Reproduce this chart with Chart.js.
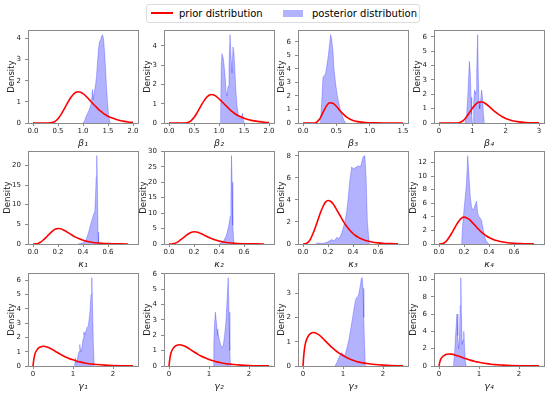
<!DOCTYPE html>
<html><head><meta charset="utf-8">
<script src="https://cdn.jsdelivr.net/npm/chart.js@4.4.0/dist/chart.umd.min.js"></script>
<style>
html,body{margin:0;padding:0;background:#fff;width:550px;height:394px;overflow:hidden;font-family:"DejaVu Sans",sans-serif;}
canvas{position:absolute;}
#legend{position:absolute;left:146px;top:4px;width:274px;height:19px;border:1px solid #dcdcdc;border-radius:3px;background:#fff;box-sizing:border-box;}
#legend .ln{position:absolute;left:4px;top:7px;width:22px;height:2px;background:#ff0000;}
#legend .pt{position:absolute;left:136px;top:4.5px;width:20px;height:7px;background:rgba(0,0,255,0.3);}
#legend .tx{position:absolute;top:1px;font-size:10px;line-height:15px;color:#000;white-space:nowrap;}
</style></head><body>
<div id="legend"><div class="ln"></div><span class="tx" style="left:32px">prior distribution</span><div class="pt"></div><span class="tx" style="left:165px">posterior distribution</span></div>
<script>
// ---------- tick labels ----------
const xTicksB12 = [0, 0.5, 1, 1.5, 2];      const xLabB12 = ['0.0','0.5','1.0','1.5','2.0'];
const xTicksB3  = [0, 0.5, 1, 1.5];         const xLabB3  = ['0.0','0.5','1.0','1.5'];
const xTicksB4  = [0, 1, 2, 3];             const xLabB4  = ['0','1','2','3'];
const xTicksK   = [0, 0.2, 0.4, 0.6];       const xLabK   = ['0.0','0.2','0.4','0.6'];
const xTicksG   = [0, 1, 2];                const xLabG   = ['0','1','2'];
const yTicks4  = [0,1,2,3,4];
const yTicks6  = [0,1,2,3,4,5,6];
const yTicks3  = [0,1,2,3];
const yTicks20 = [0,5,10,15,20];
const yTicks30 = [0,5,10,15,20,25,30];
const yTicks8  = [0,2,4,6,8];
const yTicks12 = [0,2,4,6,8,10,12];
const yTicks10 = [0,2,4,6,8,10];

// ---------- prior curves ----------
const priorB1X = [0,0.3,0.35,0.4,0.45,0.5,0.55,0.6,0.65,0.7,0.75,0.8,0.85,0.9,0.95,1.0,1.05,1.1,1.15,1.2,1.25,1.3,1.35,1.4,1.45,1.5,1.6,1.7,1.8,1.9,2.0];
const priorB1Y = [0,0,0.005,0.03,0.09,0.2,0.36,0.56,0.78,0.99,1.18,1.34,1.44,1.48,1.46,1.39,1.29,1.17,1.04,0.91,0.79,0.67,0.57,0.47,0.39,0.32,0.22,0.14,0.09,0.05,0.03];
const priorB2X = [0,0.3,0.35,0.4,0.45,0.5,0.55,0.6,0.65,0.7,0.75,0.8,0.85,0.9,0.95,1.0,1.05,1.1,1.15,1.2,1.25,1.3,1.35,1.4,1.5,1.6,1.7,1.8,1.9,2.0];
const priorB2Y = [0,0,0.01,0.05,0.14,0.28,0.48,0.71,0.94,1.15,1.32,1.44,1.48,1.45,1.37,1.26,1.13,1.0,0.87,0.74,0.62,0.52,0.43,0.36,0.25,0.17,0.11,0.07,0.04,0.025];
const priorB3X = [0,0.15,0.2,0.25,0.3,0.35,0.4,0.45,0.5,0.55,0.6,0.65,0.7,0.75,0.8,0.9,1.0,1.1,1.2,1.5];
const priorB3Y = [0,0,0.05,0.3,0.78,1.25,1.5,1.46,1.24,0.95,0.67,0.45,0.3,0.19,0.12,0.05,0.02,0.008,0.003,0];
const priorB4X = [0,0.5,0.6,0.7,0.8,0.9,1.0,1.1,1.2,1.3,1.4,1.5,1.6,1.7,1.8,1.9,2.0,2.2,2.4,2.6,2.8,3.0];
const priorB4Y = [0,0,0.02,0.12,0.35,0.68,1.02,1.3,1.46,1.46,1.34,1.16,0.95,0.75,0.58,0.43,0.32,0.16,0.08,0.04,0.02,0.01];
const priorKX = [0,0.02,0.04,0.06,0.08,0.1,0.12,0.14,0.16,0.18,0.2,0.22,0.24,0.26,0.28,0.3,0.32,0.34,0.36,0.38,0.4,0.42,0.44,0.46,0.48,0.5,0.55,0.6,0.65,0.7,0.76];
const priorKY = [0,0.02,0.15,0.45,0.95,1.55,2.2,2.85,3.4,3.8,3.95,3.88,3.65,3.3,2.9,2.5,2.1,1.75,1.45,1.18,0.95,0.77,0.62,0.5,0.4,0.32,0.18,0.1,0.05,0.03,0.01];
const priorGX = [0,0.02,0.05,0.1,0.15,0.2,0.25,0.3,0.4,0.5,0.6,0.7,0.8,0.9,1.0,1.1,1.2,1.3,1.4,1.5,1.6,1.8,2.0,2.2,2.5];
const priorGY = [0,0.45,0.85,1.13,1.28,1.35,1.38,1.37,1.28,1.13,0.96,0.8,0.65,0.53,0.43,0.34,0.27,0.21,0.16,0.13,0.1,0.06,0.035,0.02,0.01];

// ---------- posterior histograms ----------
const postB1X = [1.00,1.03,1.06,1.09,1.12,1.15,1.17,1.19,1.205,1.22,1.25,1.27,1.29,1.31,1.33,1.35,1.37,1.39,1.41,1.43,1.45,1.47,1.49,1.51,1.53,1.55];
const postB1Y = [0,0.1,0.3,0.45,0.6,0.8,1.0,1.58,1.1,1.4,1.8,2.2,2.9,3.5,3.85,3.9,4.1,4.18,4.0,3.4,2.6,1.7,1.0,0.4,0.1,0];
const postB2X = [1.03,1.045,1.06,1.09,1.12,1.14,1.16,1.18,1.20,1.22,1.24,1.26,1.28,1.30,1.32,1.34,1.36,1.39,1.42,1.45,1.47,1.49,1.51];
const postB2Y = [0,3.0,3.6,3.3,2.5,1.7,1.4,1.9,3.0,4.59,3.5,2.6,3.95,3.6,2.6,1.6,0.9,0.4,0.2,0.3,0.5,0.1,0];
const postB3X = [0.26,0.28,0.30,0.32,0.34,0.36,0.38,0.40,0.415,0.43,0.45,0.465,0.49,0.515,0.54,0.565,0.59,0.615,0.64];
const postB3Y = [0,1.5,3.4,3.5,3.7,4.3,5.0,5.9,6.53,6.2,5.3,4.0,2.9,2.0,1.4,0.9,0.5,0.2,0];
const postB4X = [0.78,0.83,0.87,0.91,0.94,0.96,0.98,1.00,1.02,1.04,1.07,1.09,1.11,1.13,1.16,1.18,1.20,1.22,1.25,1.28,1.30,1.33,1.36];
const postB4Y = [0,0.6,2.2,4.3,3.4,1.8,0.6,0,0,1.5,2.3,2.0,2.2,3.5,6.15,3.2,1.5,1.0,1.6,2.3,1.9,0.7,0];
const postK1X = [0.36,0.38,0.40,0.42,0.43,0.44,0.45,0.46,0.47,0.48,0.49,0.495,0.50,0.505,0.51,0.515,0.52,0.525];
const postK1Y = [0,0.1,0.3,0.8,1.5,2.5,3.6,4.8,6.0,7.0,8.0,9.0,12,17,22.5,15,3,0];
const postK2X = [0.40,0.42,0.44,0.45,0.46,0.47,0.48,0.49,0.495,0.50,0.505,0.51,0.52];
const postK2Y = [0,0.3,1.2,2.0,3.0,4.5,6.5,9,14,28.6,20,6,0];
const postK3X = [0.10,0.12,0.16,0.20,0.23,0.25,0.27,0.29,0.31,0.32,0.335,0.35,0.36,0.375,0.39,0.40,0.415,0.43,0.44,0.455,0.465,0.48,0.495,0.505,0.515,0.53];
const postK3Y = [0,0.1,0.05,0.2,0.4,0.3,0.6,0.5,1.0,1.4,2.0,3.0,4.0,5.8,7.0,6.8,6.9,7.0,7.1,7.0,7.2,7.9,8.02,6.0,2.0,0];
const postK4X = [0.18,0.19,0.20,0.21,0.22,0.23,0.24,0.25,0.26,0.27,0.28,0.29,0.30,0.31,0.32,0.33,0.34,0.35,0.36,0.37,0.38,0.39,0.40];
const postK4Y = [0,3,5,7,9,13,10,7,5.5,5,5.2,5.8,6.3,4.5,4,3.8,3.5,2.5,1.5,0.8,0.4,0.2,0];
const postG1X = [1.04,1.06,1.08,1.10,1.13,1.15,1.17,1.19,1.21,1.23,1.25,1.27,1.30,1.33,1.35,1.38,1.41,1.43,1.45,1.47,1.49,1.51,1.53];
const postG1Y = [0,0.55,0.2,0.3,0.8,1.0,1.5,1.0,1.1,1.4,1.9,2.4,2.2,2.5,2.7,2.8,3.4,4.0,5.0,6.19,4.0,1.5,0];
const postG2X = [1.10,1.12,1.14,1.16,1.18,1.20,1.22,1.24,1.26,1.28,1.30,1.33,1.36,1.39,1.42,1.45,1.48,1.50,1.52,1.54];
const postG2Y = [0,1.5,2.8,3.5,3.0,2.4,2.0,2.0,1.7,1.5,1.3,1.2,1.4,2.0,2.8,4.2,5.75,3.5,1.0,0];
const postG3X = [0.80,0.85,0.90,0.95,1.00,1.03,1.06,1.10,1.15,1.20,1.25,1.30,1.33,1.37,1.40,1.43,1.46,1.48,1.50,1.52,1.54,1.56];
const postG3Y = [0,0.15,0.35,0.55,0.5,0.4,0.5,0.75,1.1,1.6,2.1,2.6,2.8,2.85,3.0,3.3,3.6,3.64,3.2,2.0,0.8,0];
const postG4X = [0.36,0.39,0.42,0.45,0.47,0.49,0.51,0.53,0.545,0.56,0.58,0.60,0.62,0.64,0.66,0.68];
const postG4Y = [0,1.5,4.0,6.0,3.5,2.0,3.0,7.0,10.2,6.0,2.5,3.0,4.0,2.0,0.5,0];

// ---------- panels ----------
const panels = [
  {t:'β₁', px:priorB1X, py:priorB1Y, hx:postB1X, hy:postB1Y, xr:[-0.1,2.1], xt:xTicksB12, xl:xLabB12, ymax:4.39, yt:yTicks4},
  {t:'β₂', px:priorB2X, py:priorB2Y, hx:postB2X, hy:postB2Y, xr:[-0.1,2.1], xt:xTicksB12, xl:xLabB12, ymax:4.82, yt:yTicks4},
  {t:'β₃', px:priorB3X, py:priorB3Y, hx:postB3X, hy:postB3Y, xr:[-0.075,1.575], xt:xTicksB3, xl:xLabB3, ymax:6.86, yt:yTicks6},
  {t:'β₄', px:priorB4X, py:priorB4Y, hx:postB4X, hy:postB4Y, xr:[-0.15,3.15], xt:xTicksB4, xl:xLabB4, ymax:6.46, yt:yTicks6},
  {t:'κ₁', px:priorKX, py:priorKY, hx:postK1X, hy:postK1Y, xr:[-0.04,0.84], xt:xTicksK, xl:xLabK, ymax:23.6, yt:yTicks20, wide:true},
  {t:'κ₂', px:priorKX, py:priorKY, hx:postK2X, hy:postK2Y, xr:[-0.04,0.84], xt:xTicksK, xl:xLabK, ymax:30.05, yt:yTicks30, wide:true},
  {t:'κ₃', px:priorKX, py:priorKY, hx:postK3X, hy:postK3Y, xr:[-0.04,0.84], xt:xTicksK, xl:xLabK, ymax:8.42, yt:yTicks8},
  {t:'κ₄', px:priorKX, py:priorKY, hx:postK4X, hy:postK4Y, xr:[-0.04,0.84], xt:xTicksK, xl:xLabK, ymax:13.66, yt:yTicks12, wide:true},
  {t:'γ₁', px:priorGX, py:priorGY, hx:postG1X, hy:postG1Y, xr:[-0.125,2.625], xt:xTicksG, xl:xLabG, ymax:6.5, yt:yTicks6},
  {t:'γ₂', px:priorGX, py:priorGY, hx:postG2X, hy:postG2Y, xr:[-0.125,2.625], xt:xTicksG, xl:xLabG, ymax:6.04, yt:yTicks6},
  {t:'γ₃', px:priorGX, py:priorGY, hx:postG3X, hy:postG3Y, xr:[-0.125,2.625], xt:xTicksG, xl:xLabG, ymax:3.82, yt:yTicks3},
  {t:'γ₄', px:priorGX, py:priorGY, hx:postG4X, hy:postG4Y, xr:[-0.125,2.625], xt:xTicksG, xl:xLabG, ymax:10.72, yt:yTicks10, wide:true}
];

const COLS = [27.5, 164.3, 297.5, 434.3];
const ROWS = [29, 150, 272];
const PW = 110, PH = 94;
const PADL = 30, PADT = 7, PADR = 8, PADB = 30;
const SPINE = '#8a8a8a';

const frame = {
  id:'frame',
  afterDatasetsDraw(chart){
    const a = chart.chartArea, c = chart.ctx;
    c.save(); c.strokeStyle = SPINE; c.lineWidth = 1;
    c.strokeRect(Math.round(a.left)+0.5, Math.round(a.top)+0.5, Math.round(a.right)-Math.round(a.left), Math.round(a.bottom)-Math.round(a.top));
    c.restore();
  }
};

function pts(xs, ys){ return xs.map((x,i)=>({x:x, y:ys[i]})); }

panels.forEach((p, i) => {
  const col = i % 4, row = Math.floor(i / 4);
  const left = Math.round(COLS[col]) - PADL, top = ROWS[row] - PADT;
  const cv = document.createElement('canvas');
  const w = PW + PADL + PADR, h = PH + PADT + PADB;
  cv.width = w; cv.height = h;
  cv.style.left = left + 'px'; cv.style.top = top + 'px';
  cv.style.width = w + 'px'; cv.style.height = h + 'px';
  document.body.appendChild(cv);
  new Chart(cv, {
    type:'line',
    data:{datasets:[
      {label:'prior distribution', data:pts(p.px, p.py), borderColor:'#ff0000', borderWidth:1.6, pointRadius:0, fill:false, cubicInterpolationMode:'monotone'},
      {label:'posterior distribution', data:pts(p.hx, p.hy), borderColor:'rgba(0,0,255,0.32)', backgroundColor:'rgba(0,0,255,0.3)', borderWidth:0.8, pointRadius:0, fill:'origin', tension:0}
    ]},
    options:{
      responsive:false, animation:false, devicePixelRatio:1,
      layout:{padding:{top:PADT, right:PADR, left:0, bottom:0}},
      plugins:{legend:{display:false}, tooltip:{enabled:false}},
      scales:{
        x:{type:'linear', min:p.xr[0], max:p.xr[1],
           afterFit:s=>{s.height = PADB;},
           afterBuildTicks:s=>{s.ticks = p.xt.map(v=>({value:v}));},
           ticks:{callback:(v,k)=>p.xl[k], autoSkip:false, maxRotation:0, font:{family:'DejaVu Sans', size:7}, color:'#222', padding:1},
           grid:{drawOnChartArea:false, drawTicks:true, tickLength:3, color:SPINE},
           border:{display:false},
           title:{display:true, text:p.t, color:'#222', font:{family:'DejaVu Sans', size:9.5, style:'italic'}, padding:{top:0, bottom:3.8}}},
        y:{type:'linear', min:0, max:p.ymax,
           afterFit:s=>{s.width = PADL;},
           afterBuildTicks:s=>{s.ticks = p.yt.map(v=>({value:v}));},
           ticks:{callback:(v)=>String(v), autoSkip:false, font:{family:'DejaVu Sans', size:7}, color:'#222', padding:4},
           grid:{drawOnChartArea:false, drawTicks:true, tickLength:3, color:SPINE},
           border:{display:false},
           title:{display:true, text:'Density', color:'#222', font:{family:'DejaVu Sans', size:8.5}, padding:{top:p.wide ? 4.4 : 8.4, bottom:0}}}
      }
    },
    plugins:[frame]
  });
});
</script>
</body></html>
